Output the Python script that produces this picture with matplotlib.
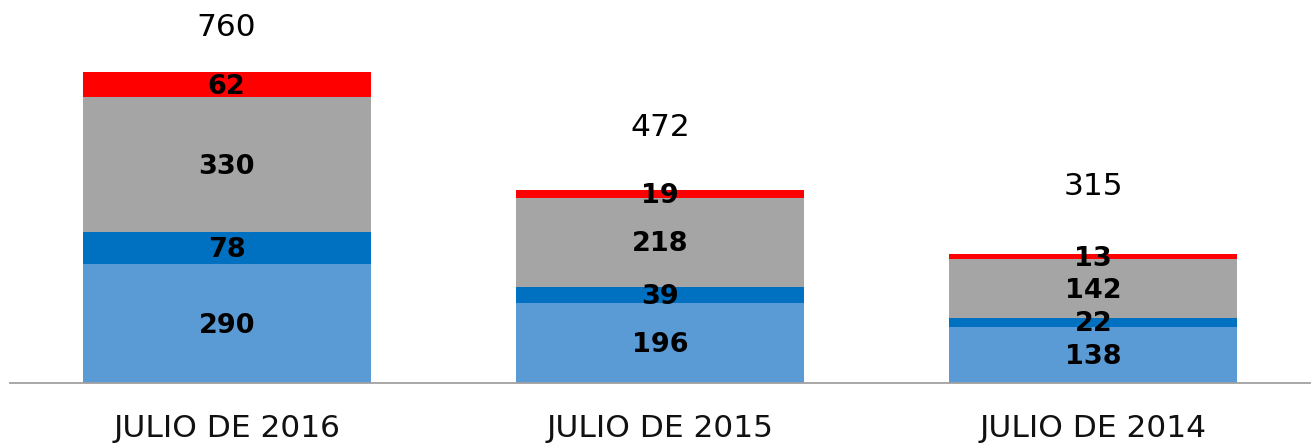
import matplotlib
matplotlib.use("Agg")
import matplotlib.pyplot as plt
import numpy as np

categories = ["JULIO DE 2016", "JULIO DE 2015", "JULIO DE 2014"]
serie_a = [290, 196, 138]   # light blue
serie_b = [78, 39, 22]      # blue
serie_c = [330, 218, 142]   # gray
serie_d = [62, 19, 13]      # red
totals = [760, 472, 315]

colors = ["#5B9BD5", "#0070C0", "#A5A5A5", "#FF0000"]
total_label_offset_px = [45, 62, 68]

plt.rcParams['font.family'] = ['DejaVu Sans']
fig = plt.figure(figsize=(13.16, 4.43), dpi=100)
ax = fig.add_axes([10/1316, 60/443, 1300/1316, 383/443])

x = np.arange(len(categories))
series = [serie_a, serie_b, serie_c, serie_d]
bottom = np.zeros(len(categories))
for vals, col in zip(series, colors):
    vals = np.array(vals, dtype=float)
    ax.bar(x, vals, bottom=bottom, width=0.665, color=col, edgecolor='none')
    for xi, b, v in zip(x, bottom, vals):
        ax.annotate(f"{int(v)}", (xi, b + v / 2), xytext=(0, -1.5), textcoords='offset points',
                    ha='center', va='center', fontsize=19.5, fontweight='bold', color='black')
    bottom += vals

for xi, top, t, off in zip(x, bottom, totals, total_label_offset_px):
    ax.annotate(f"{t}", (xi, top), xytext=(0, off * 72 / 100), textcoords='offset points',
                ha='center', va='center', fontsize=22.5, color='black')

ax.set_xlim(-0.5, 2.5)
ax.set_ylim(0, 936)
ax.set_xticks(x)
ax.set_xticklabels(categories, fontsize=22.5, color='#111111')
ax.tick_params(axis='x', length=0, pad=22)
ax.set_yticks([])
for s in ['top', 'right', 'left']:
    ax.spines[s].set_visible(False)
ax.spines['bottom'].set_color('#A0A0A0')
ax.spines['bottom'].set_linewidth(1.3)

fig.savefig("out.png", dpi=100)
